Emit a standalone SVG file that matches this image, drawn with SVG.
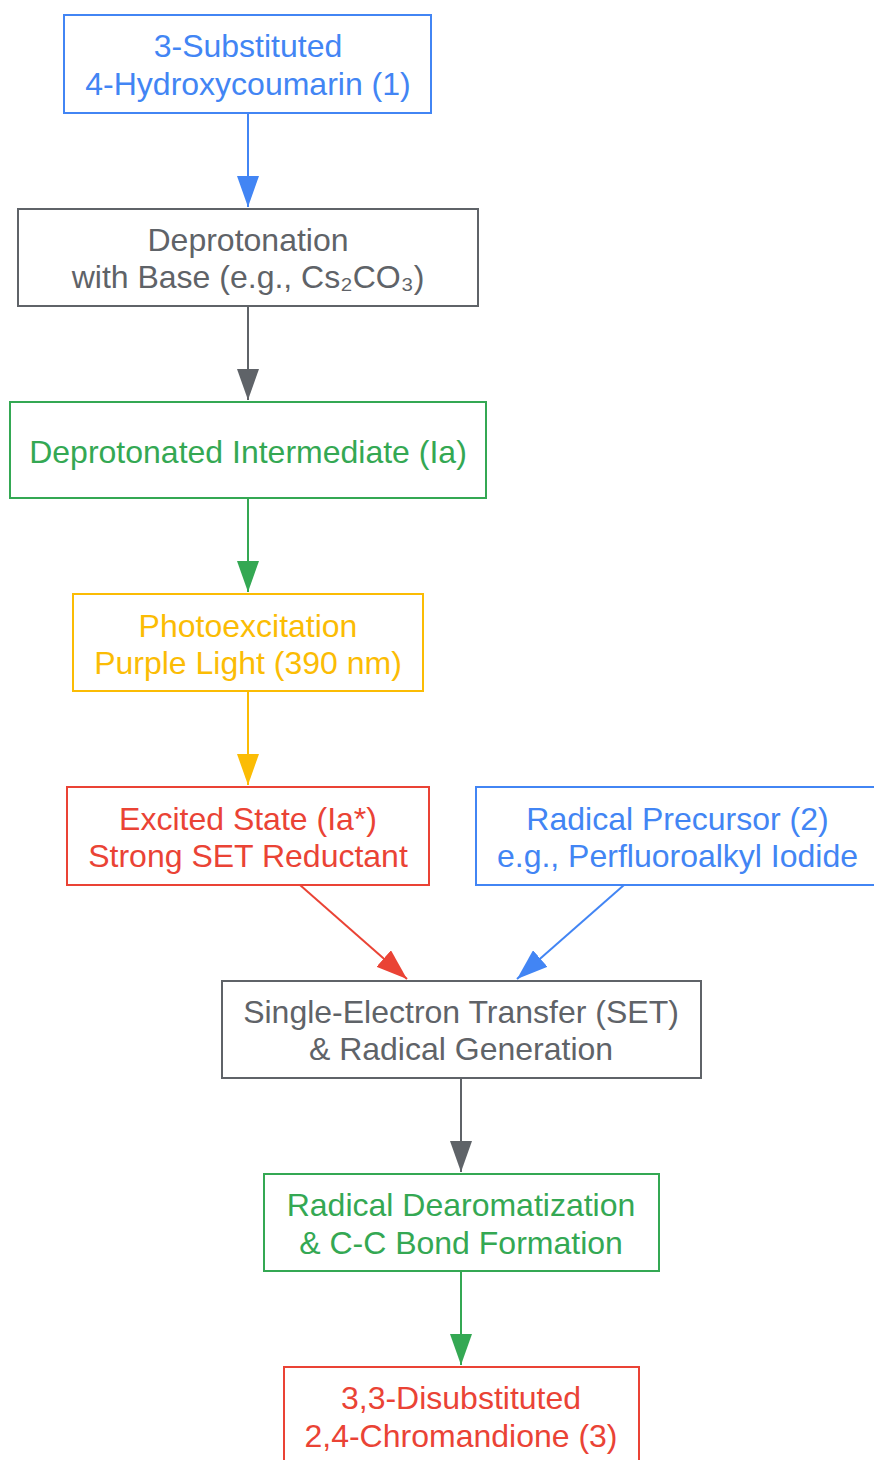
<svg xmlns="http://www.w3.org/2000/svg" width="874" height="1460" viewBox="0 0 874 1460">
<style>
text{font-family:"Liberation Sans",Arial,sans-serif;font-size:32px;text-anchor:middle}
rect{fill:#fff;stroke-width:2}
.blue rect{stroke:#4285F4}.blue text{fill:#4285F4}
.gray rect{stroke:#5F6368}.gray text{fill:#5F6368}
.green rect{stroke:#34A853}.green text{fill:#34A853}
.yellow rect{stroke:#FBBC04}.yellow text{fill:#FBBC04}
.red rect{stroke:#EA4335}.red text{fill:#EA4335}
#edges path{fill:none;stroke-width:2}
</style>
<defs>
<marker id="mb" viewBox="0 0 31 22" refX="31" refY="11" markerWidth="31" markerHeight="22" markerUnits="userSpaceOnUse" orient="auto"><path d="M0,0L31,11L0,22z" fill="#4285F4"/></marker>
<marker id="mg" viewBox="0 0 31 22" refX="31" refY="11" markerWidth="31" markerHeight="22" markerUnits="userSpaceOnUse" orient="auto"><path d="M0,0L31,11L0,22z" fill="#5F6368"/></marker>
<marker id="mgr" viewBox="0 0 31 22" refX="31" refY="11" markerWidth="31" markerHeight="22" markerUnits="userSpaceOnUse" orient="auto"><path d="M0,0L31,11L0,22z" fill="#34A853"/></marker>
<marker id="my" viewBox="0 0 31 22" refX="31" refY="11" markerWidth="31" markerHeight="22" markerUnits="userSpaceOnUse" orient="auto"><path d="M0,0L31,11L0,22z" fill="#FBBC04"/></marker>
<marker id="mr" viewBox="0 0 31 22" refX="31" refY="11" markerWidth="31" markerHeight="22" markerUnits="userSpaceOnUse" orient="auto"><path d="M0,0L31,11L0,22z" fill="#EA4335"/></marker>
</defs>
<rect x="0" y="0" width="874" height="1460" style="fill:#fff;stroke:none"/>
<g id="edges">
<path d="M248,113L248,207" stroke="#4285F4" marker-end="url(#mb)"/>
<path d="M248,306L248,400" stroke="#5F6368" marker-end="url(#mg)"/>
<path d="M248,498L248,592" stroke="#34A853" marker-end="url(#mgr)"/>
<path d="M248,691L248,785" stroke="#FBBC04" marker-end="url(#my)"/>
<path d="M300,885L407,979" stroke="#EA4335" marker-end="url(#mr)"/>
<path d="M624,885L517,979" stroke="#4285F4" marker-end="url(#mb)"/>
<path d="M461,1078L461,1172" stroke="#5F6368" marker-end="url(#mg)"/>
<path d="M461,1271L461,1365" stroke="#34A853" marker-end="url(#mgr)"/>
</g>
<g id="n1" class="blue"><rect x="64" y="15" width="367" height="98"/><text x="248" y="57">3-Substituted</text><text x="248" y="95">4-Hydroxycoumarin (1)</text></g>
<g id="n2" class="gray"><rect x="18" y="209" width="460" height="97"/><text x="248" y="251">Deprotonation</text><text x="248" y="288">with Base (e.g., Cs₂CO₃)</text></g>
<g id="n3" class="green"><rect x="10" y="402" width="476" height="96"/><text x="248" y="463">Deprotonated Intermediate (Ia)</text></g>
<g id="n4" class="yellow"><rect x="73" y="594" width="350" height="97"/><text x="248" y="637">Photoexcitation</text><text x="248" y="674">Purple Light (390 nm)</text></g>
<g id="n5" class="red"><rect x="67" y="787" width="362" height="98"/><text x="248" y="830">Excited State (Ia*)</text><text x="248" y="867">Strong SET Reductant</text></g>
<g id="n6" class="blue"><rect x="476" y="787" width="403" height="98"/><text x="677.5" y="830">Radical Precursor (2)</text><text x="677.5" y="867">e.g., Perfluoroalkyl Iodide</text></g>
<g id="n7" class="gray"><rect x="222" y="981" width="479" height="97"/><text x="461" y="1023">Single-Electron Transfer (SET)</text><text x="461" y="1060">&amp; Radical Generation</text></g>
<g id="n8" class="green"><rect x="264" y="1174" width="395" height="97"/><text x="461" y="1216">Radical Dearomatization</text><text x="461" y="1254">&amp; C-C Bond Formation</text></g>
<g id="n9" class="red"><rect x="284" y="1367" width="355" height="98"/><text x="461" y="1409">3,3-Disubstituted</text><text x="461" y="1447">2,4-Chromandione (3)</text></g>
</svg>
